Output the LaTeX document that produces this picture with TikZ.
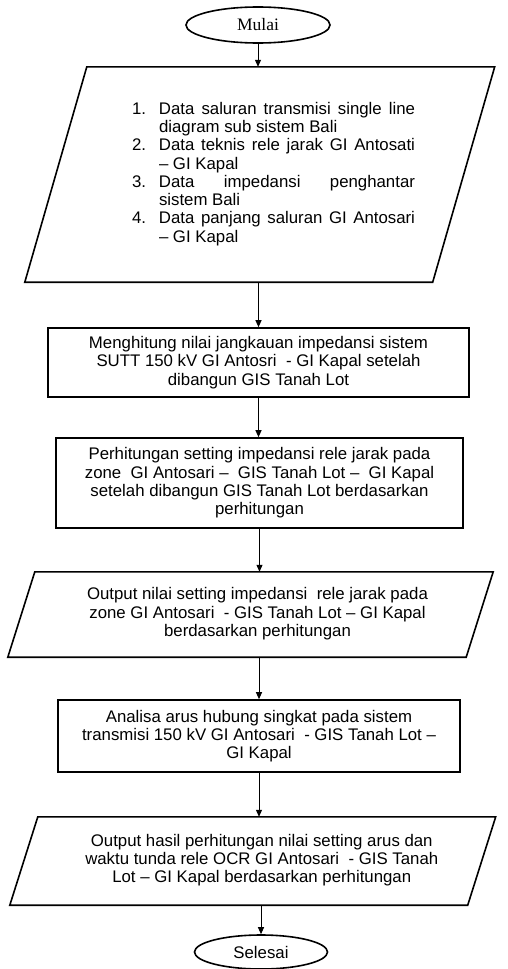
\documentclass[tikz,border=0pt]{standalone}
\usepackage{fontspec}
\setmainfont{Liberation Sans}
\newfontfamily\mulaifont{Liberation Serif}
\usepackage{tikz}
\usetikzlibrary{shapes.geometric,arrows.meta,calc}

% parallelogram (input/output) round a node: #1 node, #2 half slant
\newcommand{\ioframe}[2]{%
  \draw[box line] ($(#1.south west)+(-#2,0)$) -- ($(#1.south east)+(-#2,0)$)
    -- ($(#1.north east)+(#2,0)$) -- ($(#1.north west)+(#2,0)$) -- cycle;}

\begin{document}
\begin{tikzpicture}[x=1pt,y=1pt,
  box line/.style={line width=1.6pt},
  txt/.style={font=\fontsize{16.8}{18.3}\selectfont, inner sep=0pt, align=center},
  terminal/.style={draw, box line, ellipse, inner sep=0pt},
  process/.style={draw, box line, txt, rectangle},
  io/.style={txt, rectangle},
  flow/.style={line width=1pt, -{Triangle[length=7pt,width=6pt]}}]
\useasboundingbox (0,0) rectangle (508,-969);

% Start
\node[terminal, minimum width=144pt, minimum height=36pt, font=\mulaifont\fontsize{17.5}{20}\selectfont]
  (mulai) at (258,-25) {Mulai};

% Input data
\node[io, minimum width=407.5pt, minimum height=215pt] (data) at (259.75,-174.5)
  {\begin{tabular}{@{\hspace{27.5pt}}l@{}l@{}}
   \makebox[27pt][l]{1.} & \makebox[256pt][s]{Data saluran transmisi single line}\\
    & diagram sub sistem Bali\\
   \makebox[27pt][l]{2.} & \makebox[256pt][s]{Data teknis rele jarak GI Antosati}\\
    & – GI Kapal\\
   \makebox[27pt][l]{3.} & \makebox[256pt][s]{Data impedansi penghantar}\\
    & sistem Bali\\
   \makebox[27pt][l]{4.} & \makebox[256pt][s]{Data panjang saluran GI Antosari}\\
    & – GI Kapal
   \end{tabular}};
\ioframe{data}{31}

% Process steps
\node[process, minimum width=421pt, minimum height=69pt] (hitung) at (258.5,-362.5)
  {Menghitung nilai jangkauan impedansi sistem\\
   SUTT 150 kV GI Antosri \ - GI Kapal setelah\\
   dibangun GIS Tanah Lot};

\node[process, minimum width=407pt, minimum height=90pt] (setting) at (259.5,-483)
  {Perhitungan setting impedansi rele jarak pada\\
   zone \ GI Antosari – \ GIS Tanah Lot – \ GI Kapal\\
   setelah dibangun GIS Tanah Lot berdasarkan\\
   perhitungan};

% Output impedance setting
\node[io, minimum width=458pt, minimum height=85pt] (outzone) at (250.5,-614.5)
  {\begin{tabular}{@{\hspace{14pt}}c@{}}
   Output nilai setting impedansi \ rele jarak pada\\
   zone GI Antosari \ - GIS Tanah Lot – GI Kapal\\
   berdasarkan perhitungan
   \end{tabular}};
\ioframe{outzone}{13.5}

\node[process, minimum width=402pt, minimum height=72pt] (analisa) at (259,-736)
  {Analisa arus hubung singkat pada sistem\\
   transmisi 150 kV GI Antosari \ - GIS Tanah Lot –\\
   GI Kapal};

% Output OCR setting
\node[io, minimum width=457.5pt, minimum height=88pt] (outocr) at (252.75,-861)
  {\begin{tabular}{@{\hspace{18pt}}c@{}}
   Output hasil perhitungan nilai setting arus dan\\
   waktu tunda rele OCR GI Antosari \ - GIS Tanah\\
   Lot – GI Kapal berdasarkan perhitungan
   \end{tabular}};
\ioframe{outocr}{14}

% End
\node[terminal, txt, minimum width=133pt, minimum height=34pt] (selesai) at (261,-952) {Selesai};

% Connectors
\draw[flow] (mulai.south) -- (mulai.south |- data.north);
\draw[flow] (hitung.north |- data.south) -- (hitung.north);
\draw[flow] (hitung.south) -- (hitung.south |- setting.north);
\draw[flow] (setting.south) -- (setting.south |- outzone.north);
\draw[flow] (analisa.north |- outzone.south) -- (analisa.north);
\draw[flow] (analisa.south) -- (analisa.south |- outocr.north);
\draw[flow] (selesai.north |- outocr.south) -- (selesai.north);
\end{tikzpicture}
\end{document}
